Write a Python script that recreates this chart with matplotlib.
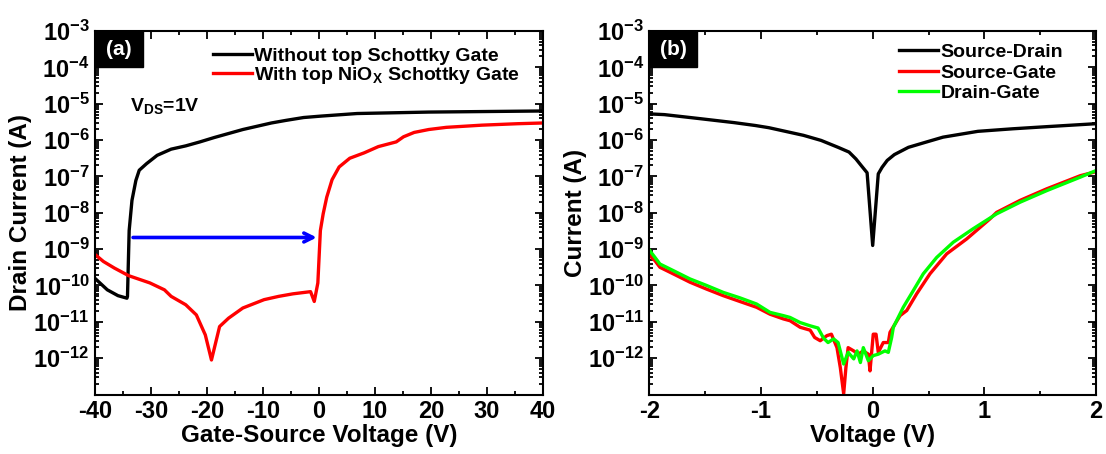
import numpy as np
import matplotlib
matplotlib.use("Agg")
import matplotlib.pyplot as plt
from matplotlib.ticker import LogLocator, FixedLocator, MultipleLocator, NullFormatter
from matplotlib.patches import Rectangle

plt.rcParams['font.family'] = ['Liberation Sans', 'DejaVu Sans']
plt.rcParams['font.weight'] = 'bold'
plt.rcParams['axes.unicode_minus'] = False
plt.rcParams['mathtext.fontset'] = 'custom'
plt.rcParams['mathtext.rm'] = 'Liberation Sans:bold'
plt.rcParams['mathtext.bf'] = 'Liberation Sans:bold'
plt.rcParams['mathtext.it'] = 'Liberation Sans:bold'

# ---- panel (a): transfer curves, log10 of drain current ----
vgs_no = [-39.9, -37.8, -35.9, -34.3, -34.2, -33.9, -33.4, -32.7, -32.1, -30.8, -28.9,
          -26.4, -23.8, -21.25, -18.7, -16.15, -13.6, -11.05, -8.5, -5.95, -2.75,
          0.43, 6.8, 19.6, 40.0]
log_no = [-9.82, -10.12, -10.28, -10.35, -10.3, -8.49, -7.66, -7.11, -6.83, -6.65, -6.42,
          -6.25, -6.16, -6.05, -5.93, -5.82, -5.71, -5.62, -5.53, -5.46, -5.38,
          -5.34, -5.27, -5.23, -5.20]

vgs_nio = [-39.9, -38.5, -36.55, -34.0, -30.2, -27.6, -26.4, -23.8, -21.9, -20.3, -19.2,
           -17.75, -16.15, -13.6, -9.8, -7.2, -4.65, -1.5, -0.84, -0.2, 0.25, 0.75,
           1.39, 2.34, 3.6, 5.5, 8.1, 10.6, 13.8, 15.1, 17.0, 19.6, 22.75, 29.1, 35.5, 40.0]
log_nio = [-9.16, -9.34, -9.52, -9.73, -9.93, -10.12, -10.3, -10.53, -10.81, -11.36, -12.05,
           -11.13, -10.9, -10.62, -10.39, -10.3, -10.23, -10.17, -10.44, -9.93, -8.49, -8.03,
           -7.57, -7.09, -6.74, -6.5, -6.35, -6.18, -6.05, -5.91, -5.79, -5.71, -5.65, -5.59, -5.55, -5.53]

arrow_x = [-33.7, 0.1]
arrow_log = -8.68

# ---- panel (b): two-terminal I-V, log10 of current ----
v_sd = [-2.0, -1.866, -1.55, -1.242, -1.05, -0.93, -0.62, -0.462, -0.31, -0.212, -0.15,
        -0.103, -0.05, 0.0, 0.05, 0.084, 0.13, 0.194, 0.32, 0.474, 0.63, 0.942, 1.254, 1.566, 2.0]
log_sd = [-5.28, -5.30, -5.41, -5.52, -5.60, -5.66, -5.87, -6.01, -6.20, -6.33, -6.52,
          -6.70, -6.90, -8.90, -6.93, -6.75, -6.56, -6.40, -6.20, -6.06, -5.92, -5.76, -5.69, -5.63, -5.55]

v_sg = [-1.997, -1.95, -1.906, -1.787, -1.637, -1.488, -1.339, -1.19, -1.04, -0.92, -0.80,
        -0.74, -0.65, -0.56, -0.52, -0.47, -0.41, -0.37, -0.32, -0.29, -0.26, -0.24, -0.22,
        -0.17, -0.13, -0.084, -0.039, -0.024, 0.005, 0.03, 0.05, 0.095, 0.14, 0.155, 0.20,
        0.245, 0.305, 0.394, 0.513, 0.663, 0.842, 1.05, 1.11, 1.32, 1.56, 1.86, 2.0]
log_sg = [-9.18, -9.32, -9.50, -9.68, -9.91, -10.10, -10.28, -10.44, -10.60, -10.79, -10.92,
          -10.97, -11.15, -11.23, -11.43, -11.52, -11.38, -11.34, -11.71, -12.26, -12.98, -12.26, -11.71,
          -11.80, -11.89, -11.80, -11.89, -12.35, -11.34, -11.34, -11.84, -11.57, -11.57, -11.29, -11.06,
          -10.83, -10.69, -10.23, -9.68, -9.13, -8.72, -8.17, -7.99, -7.66, -7.34, -6.98, -6.87]

v_dg = [-1.997, -1.95, -1.906, -1.787, -1.637, -1.488, -1.339, -1.19, -1.04, -0.92, -0.80,
        -0.74, -0.65, -0.56, -0.49, -0.44, -0.40, -0.35, -0.31, -0.26, -0.22, -0.17, -0.14,
        -0.11, -0.084, -0.039, 0.005, 0.05, 0.11, 0.14, 0.17, 0.185, 0.274, 0.364, 0.453,
        0.573, 0.722, 0.90, 1.11, 1.32, 1.56, 1.86, 2.0]
log_dg = [-9.04, -9.23, -9.41, -9.59, -9.82, -10.0, -10.19, -10.34, -10.51, -10.74, -10.83,
          -10.88, -11.02, -11.11, -11.17, -11.45, -11.57, -11.47, -11.57, -12.16, -11.84, -12.02, -11.80,
          -12.12, -11.71, -12.07, -11.93, -11.89, -11.80, -11.84, -11.43, -11.15, -10.60, -10.14, -9.68,
          -9.23, -8.81, -8.44, -8.03, -7.71, -7.39, -7.02, -6.84]

ytick_exp = list(range(-12, -2))

fig = plt.figure(figsize=(11.06, 4.54), dpi=100)
ax1 = fig.add_axes([0.0859, 0.131, 0.405, 0.8007])
ax2 = fig.add_axes([0.5872, 0.131, 0.4037, 0.8007])

lw = 2.4
ax1.plot(vgs_no, 10.0 ** np.array(log_no), color='black', lw=lw, label='Without top Schottky Gate')
ax1.plot(vgs_nio, 10.0 ** np.array(log_nio), color='#ff0000', lw=lw,
         label=r'With top NiO$_{\mathbf{X}}$ Schottky Gate')
ax1.annotate('', xy=(arrow_x[1], 10 ** arrow_log), xytext=(arrow_x[0], 10 ** arrow_log),
             arrowprops=dict(arrowstyle='->', color='#0000ff', lw=2.6, mutation_scale=16))

ax2.plot(v_sd, 10.0 ** np.array(log_sd), color='black', lw=lw, label='Source-Drain')
ax2.plot(v_sg, 10.0 ** np.array(log_sg), color='#ff0000', lw=lw, label='Source-Gate')
ax2.plot(v_dg, 10.0 ** np.array(log_dg), color='#00ff00', lw=lw, label='Drain-Gate')

ax1.set_xlim(-40, 40)
ax2.set_xlim(-2, 2)
ax1.xaxis.set_major_locator(MultipleLocator(10))
ax1.xaxis.set_minor_locator(MultipleLocator(5))
ax2.xaxis.set_major_locator(MultipleLocator(1))
ax2.xaxis.set_minor_locator(MultipleLocator(0.5))

for ax in (ax1, ax2):
    ax.set_yscale('log')
    ax.set_ylim(1e-13, 1e-3)
    ax.yaxis.set_major_locator(FixedLocator([10.0 ** e for e in ytick_exp]))
    ax.set_yticklabels([r'$\mathbf{10^{%d}}$' % e for e in ytick_exp])
    ax.yaxis.set_minor_locator(LogLocator(base=10, subs=np.arange(2, 10), numticks=30))
    ax.yaxis.set_minor_formatter(NullFormatter())
    ax.tick_params(which='both', direction='in', top=True, right=True, width=1.3)
    ax.tick_params(which='major', length=6, labelsize=17, pad=4)
    ax.tick_params(which='minor', length=3)
    for lab in ax.get_xticklabels():
        lab.set_fontweight('bold')
    for s in ax.spines.values():
        s.set_linewidth(1.5)

ax1.set_xlabel('Gate-Source Voltage (V)', fontsize=17.5, fontweight='bold', labelpad=1)
ax1.set_ylabel('Drain Current (A)', fontsize=17.5, fontweight='bold', labelpad=1)
ax2.set_xlabel('Voltage (V)', fontsize=17.5, fontweight='bold', labelpad=1)
ax2.set_ylabel('Current (A)', fontsize=17.5, fontweight='bold', labelpad=1)

# panel tags
for ax, tag in ((ax1, '(a)'), (ax2, '(b)')):
    ax.add_patch(Rectangle((0, 1 - 0.1), 0.107, 0.1, transform=ax.transAxes,
                           color='black', zorder=5, clip_on=False))
    ax.text(0.0535, 0.95, tag, transform=ax.transAxes, color='white', fontsize=15,
            fontweight='bold', ha='center', va='center', zorder=6)

ax1.text(-33.8, 10 ** -5.05, r'V$_{\mathbf{DS}}$=1V', fontsize=14, fontweight='bold',
         ha='left', va='center')

leg1 = ax1.legend(loc='upper left', bbox_to_anchor=(0.263, 0.955), frameon=False,
                  fontsize=14, handlelength=2.0, handletextpad=0.1, labelspacing=0.0,
                  borderpad=0, borderaxespad=0)
leg2 = ax2.legend(loc='upper left', bbox_to_anchor=(0.56, 0.966), frameon=False,
                  fontsize=14, handlelength=2.0, handletextpad=0.1, labelspacing=0.15,
                  borderpad=0, borderaxespad=0)
for leg in (leg1, leg2):
    for t in leg.get_texts():
        t.set_fontweight('bold')

fig.savefig('out.png', dpi=100)
